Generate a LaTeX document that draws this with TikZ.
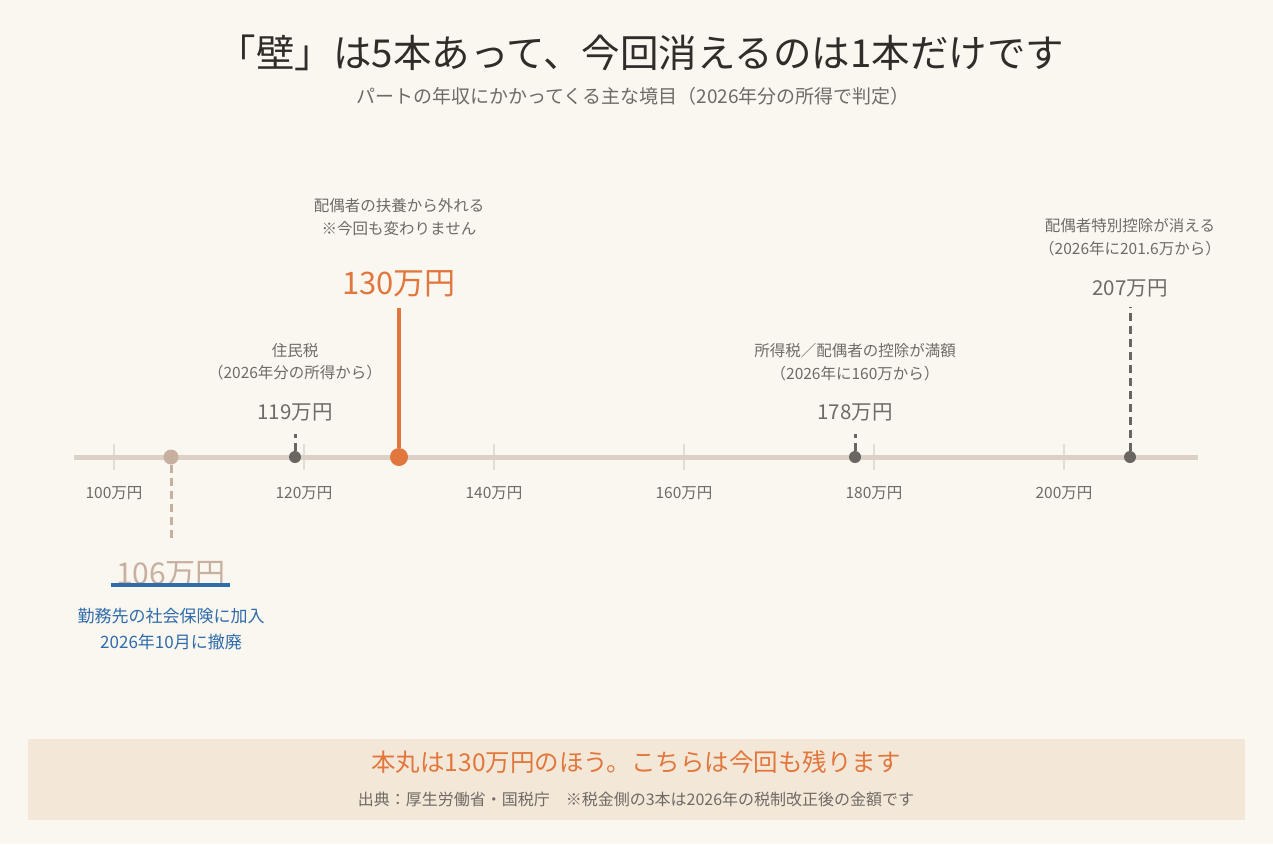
\documentclass[tikz,border=0pt]{standalone}
\usepackage{fontspec}
\setmainfont{Noto Sans CJK JP}
\usetikzlibrary{positioning}
\definecolor{paper}{HTML}{FAF6F0}
\definecolor{band}{HTML}{F3E8D7}
\definecolor{ink}{HTML}{2F2C2A}
\definecolor{grey}{HTML}{6F6A66}
\definecolor{dotgrey}{HTML}{6B6562}
\definecolor{rail}{HTML}{DCD1C6}
\definecolor{accent}{HTML}{E2773D}
\definecolor{tan}{HTML}{C8B09F}
\definecolor{navy}{HTML}{2F6CAB}
\newcommand{\fs}[2]{\fontsize{#1}{#2}\selectfont}

\begin{document}
\begin{tikzpicture}[x=1pt, y=-1pt,
  every node/.style={inner sep=0pt, text=grey, align=center},
  note/.style={font=\fs{15.5}{23}, text=grey},
  amount/.style={font=\fs{20.5}{24}, text=grey, anchor=base},
  ticklabel/.style={font=\fs{15.5}{18}, text=grey},
  wallmark/.style={circle, fill=dotgrey, minimum size=12pt},
  stem/.style={dotgrey, line width=3pt, dash pattern=on 8pt off 5pt}]
\fill[paper] (0,0) rectangle (1273,844);
\useasboundingbox (0,0) rectangle (1273,844);

% titles
\node (title) at (641,53) [font=\fs{38.5}{45}, text=ink] {「壁」は5本あって、今回消えるのは1本だけです};
\node (subtitle) at (633,96) [font=\fs{19}{22}, text=grey] {パートの年収にかかってくる主な境目（2026年分の所得で判定）};

% axis
\foreach \x/\v in {114/100, 304/120, 494/140, 684/160, 874/180, 1064/200} {
  \draw [rail!90!grey!60, line width=2pt] (\x,444) -- (\x,470);
  \node (t\v) at (\x,493) [ticklabel] {\v 万円};
}
\draw [rail, line width=5pt] (74,457) -- (1198,457);

% points on the axis
\node (d106) at (171,457) [wallmark, fill=tan, minimum size=15pt] {};
\node (d119) at (295,457) [wallmark] {};
\node (d130) at (399,457) [wallmark, fill=accent, minimum size=18pt] {};
\node (d178) at (855,457) [wallmark] {};
\node (d207) at (1130,457) [wallmark] {};

% amounts
\node (v106) at (171,584.5) [amount, font=\fs{30}{34}, text=tan] {106万円};
\node (v119) at (295,419) [amount] {119万円};
\node (v130) at (399,294) [amount, font=\fs{31}{36}, text=accent] {130万円};
\node (v178) at (855,419) [amount] {178万円};
\node (v207) at (1130,295) [amount] {207万円};

% notes
\node (n119) at (295,362) [note, font=\fs{15.5}{22}] {住民税\\（2026年分の所得から）};
\node (n130) at (399,217) [note] {配偶者の扶養から外れる\\※今回も変わりません};
\node (n178) at (855,362) [note] {所得税／配偶者の控除が満額\\（2026年に160万から）};
\node (n207) at (1130,237) [note] {配偶者特別控除が消える\\（2026年に201.6万から）};
\node (n106) at (171,629) [font=\fs{17}{26}, text=navy] {勤務先の社会保険に加入\\2026年10月に撤廃};

% stems
\draw [stem, tan, shorten >=20pt] (d106) -- (v106);
\draw [stem, shorten >=13pt] (d119) -- (v119);
\draw [stem, shorten >=13pt] (d178) -- (v178);
\draw [stem, shorten >=10pt] (d207) -- (v207);
\draw [accent, line width=4pt, shorten >=11pt] (d130) -- (v130);
\draw [navy, line width=4pt] ([xshift=-5pt]v106.base west) -- ([xshift=4pt]v106.base east);

% footer
\fill [band] (28,739) rectangle (1245,820);
\node (punch) at (636,762) [font=\fs{24.5}{28}, text=accent] {本丸は130万円のほう。こちらは今回も残ります};
\node (source) at (636,799) [font=\fs{16}{18}, text=grey] {出典：厚生労働省・国税庁　※税金側の3本は2026年の税制改正後の金額です};
\end{tikzpicture}
\end{document}
